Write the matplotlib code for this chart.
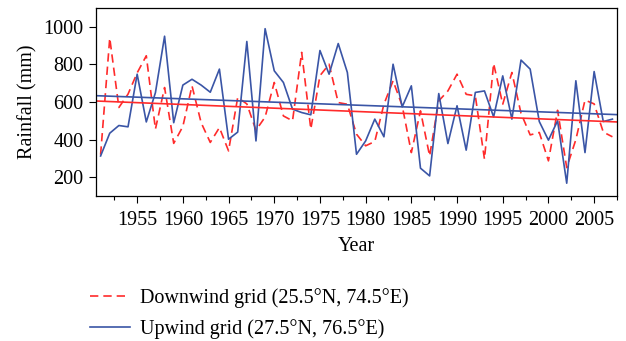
import numpy as np
import matplotlib
matplotlib.use('Agg')
import matplotlib.pyplot as plt
from matplotlib.ticker import MultipleLocator

plt.rcParams['font.family'] = ['Liberation Serif', 'DejaVu Serif']

years = np.arange(1951, 2008)

# upwind grid (27.5N, 76.5E)
upwind = [313, 434, 475, 468, 748, 494, 650, 950, 490, 690,
          721, 690, 652, 775, 402, 440, 922, 393, 990, 766,
          704, 562, 544, 532, 874, 748, 911, 757, 322, 393,
          509, 415, 801, 574, 686, 248, 207, 645, 379, 580,
          344, 651, 659, 521, 739, 509, 823, 775, 496, 397,
          500, 168, 713, 331, 762, 496, 509]

# downwind grid (25.5N, 74.5E)
downwind = [320, 940, 571, 642, 755, 846, 456, 677, 380, 470,
            686, 490, 385, 464, 340, 624, 590, 450, 520, 704,
            526, 500, 864, 456, 740, 801, 597, 588, 429, 367,
            390, 588, 713, 580, 331, 553, 313, 606, 659, 748,
            641, 633, 296, 805, 588, 757, 540, 425, 438, 287,
            556, 251, 400, 610, 590, 440, 415]

red = '#ff2b2b'
blue = '#3a55a6'

fig = plt.figure(figsize=(6.26, 3.41), dpi=100)
ax = fig.add_axes([0.1534, 0.4252, 0.8322, 0.5513])

ax.plot(years, downwind, color=red, lw=1.2, ls=(0, (5, 3)),
        label='Downwind grid (25.5°N, 74.5°E)')
ax.plot(years, upwind, color=blue, lw=1.2,
        label='Upwind grid (27.5°N, 76.5°E)')

# linear trends over the full axis span
xlim = (1950.5, 2007.5)
xt = np.array(xlim)
for series, col in ((downwind, red), (upwind, blue)):
    k, b = np.polyfit(years, series, 1)
    ax.plot(xt, k*xt + b, color=col, lw=1.2)

ax.set_xlim(*xlim)
ax.set_ylim(100, 1100)
ax.xaxis.set_major_locator(MultipleLocator(5))
ax.xaxis.set_minor_locator(MultipleLocator(2.5))
ax.yaxis.set_major_locator(MultipleLocator(200))
ax.tick_params(axis='both', which='major', direction='out', length=5,
               width=0.8, labelsize=14.5, pad=4)
ax.tick_params(axis='x', which='minor', direction='out', length=3, width=0.8)
ax.tick_params(axis='x', which='major', pad=6)
for s in ax.spines.values():
    s.set_linewidth(0.9)

ax.set_xlabel('Year', fontsize=14.5, labelpad=5)
ax.set_ylabel('Rainfall (mm)', fontsize=14.5, labelpad=4)

fig.legend(loc='upper left', bbox_to_anchor=(0.131, 0.18), frameon=False,
           fontsize=14.5, handlelength=2.0, handletextpad=0.5,
           labelspacing=0.55, borderaxespad=0)

fig.savefig('out.png', dpi=100)
